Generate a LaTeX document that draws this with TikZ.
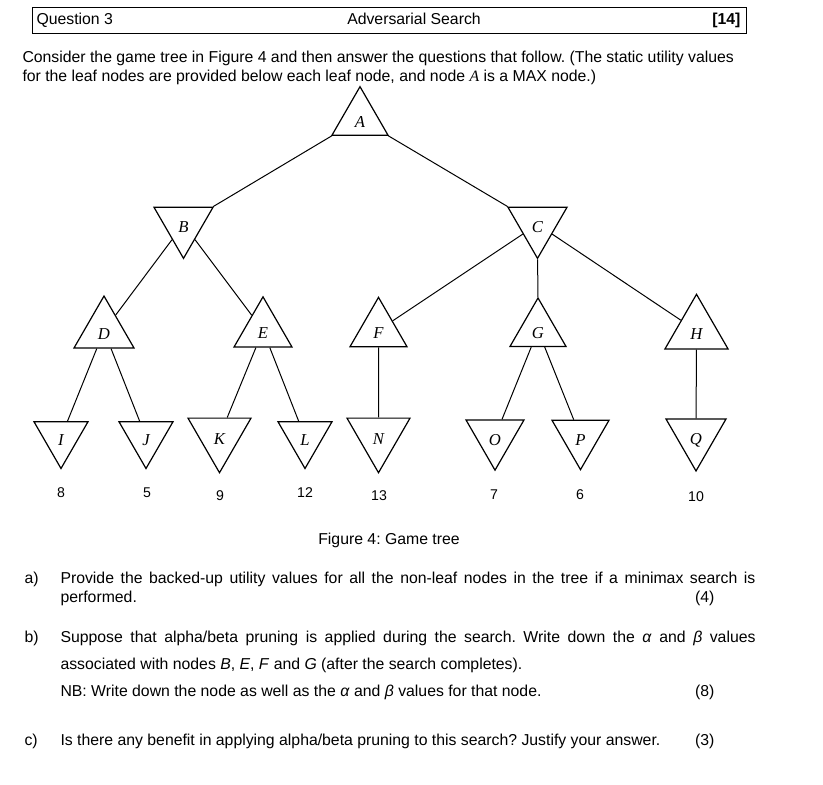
\documentclass[tikz,border=0pt]{standalone}
\usepackage{fontspec}
\setmainfont{Liberation Sans}
\newfontfamily\serifit{Liberation Serif}[ItalicFont={Liberation Serif Italic}]
\usetikzlibrary{shapes.geometric}
\frenchspacing

\newcommand\examfont{\fontsize{11.85pt}{14pt}\selectfont}
\newcommand\valfont{\fontsize{10.6pt}{12pt}\selectfont}
\newcommand\lblfont{\fontsize{12.5pt}{14pt}\selectfont\serifit\itshape}

\tikzset{every picture/.style={line width=0.75pt}}
\tikzset{
	maxnode/.style={draw, regular polygon, regular polygon sides=3, inner sep=0pt, minimum size=#1, line width=0.9pt, font=\lblfont, text height=12.5pt, text depth=0pt},
	maxnode/.default=50pt,
	minnode/.style={maxnode=#1, shape border rotate=180},
	minnode/.default=50pt,
	txt/.style={anchor=west, inner sep=0pt, font=\examfont, text height=8.5pt, text depth=2.5pt},
	leafval/.style={inner sep=0pt, font=\valfont}
}

\begin{document}
\begin{tikzpicture}[x=0.75pt,y=0.75pt,yscale=-1,xscale=1]
	\path[use as bounding box] (0,0) rectangle (823,784);

	%Shape: Rectangle [header]
	\draw (32,8) rectangle (746,34);
	% Text Node
	\node[txt] (qnum) at (36,21) {Question 3};
	% Text Node
	\node[txt, anchor=center] (qtitle) at (414,21) {Adversarial Search};
	% Text Node
	\node[txt, anchor=east] (qmarks) at (741,21) {\textbf{[14]}};

	% Text Node
	\node[txt] (intro1) at (22,59) {Consider the game tree in Figure 4 and then answer the questions that follow. (The static utility values};
	% Text Node
	\node[txt] (intro2) at (22,78) {for the leaf nodes are provided below each leaf node, and node {\serifit\itshape A} is a MAX node.)};

	%Shape: Triangles [tree]
	\node[maxnode=48.5pt] (A) at (360,119) {A};
	\node[minnode=51.1pt] (B) at (183.5,224.3) {B};
	\node[minnode=51.1pt] (C) at (537.5,224.3) {C};
	\node[maxnode=52pt] (D) at (104,330.7) {D};
	\node[maxnode=50.2pt] (E) at (263,330.3) {E};
	\node[maxnode=49.4pt] (F) at (378.5,330.3) {F};
	\node[maxnode=48.5pt] (G) at (538,330.3) {G};
	\node[maxnode=54.6pt] (H) at (696.5,330.7) {H};
	\node[minnode=46.8pt] (I) at (61,437.3) {I};
	\node[minnode=46.8pt] (J) at (146,437.3) {J};
	\node[minnode=54.6pt] (K) at (219.5,436.3) {K};
	\node[minnode=46.8pt] (L) at (305,437.3) {L};
	\node[minnode=54.6pt] (N) at (378.5,436.3) {N};
	\node[minnode=50.2pt] (O) at (495,436.7) {O};
	\node[minnode=49.4pt] (P) at (580.5,436.7) {P};
	\node[minnode=52pt] (Q) at (696,436.3) {Q};

	%Straight Lines [edges]
	\draw (A) -- (B) (A) -- (C);
	\draw (B) -- (D) (B) -- (E);
	\draw (C) -- (F) (C) -- (G) (C) -- (H);
	\draw (D) -- (I) (D) -- (J);
	\draw (E) -- (K) (E) -- (L);
	\draw (F) -- (N);
	\draw (G) -- (O) (G) -- (P);
	\draw (H) -- (Q);

	% Text Node [leaf values]
	\node[leafval] (vI) at (61,493) {8};
	\node[leafval] (vJ) at (147,493) {5};
	\node[leafval] (vK) at (220,496) {9};
	\node[leafval] (vL) at (305,493) {12};
	\node[leafval] (vN) at (379,496) {13};
	\node[leafval] (vO) at (494,495) {7};
	\node[leafval] (vP) at (580,495) {6};
	\node[leafval] (vQ) at (696,497) {10};

	% Text Node
	\node[txt, anchor=center] (caption) at (389,540) {Figure 4: Game tree};

	% Text Node [part a]
	\node[txt] (pa) at (24,579) {a)};
	\node[txt] (pa1) at (60,579) {\makebox[521.25pt][s]{Provide the backed-up utility values for all the non-leaf nodes in the tree if a minimax search is}};
	\node[txt] (pa2) at (60,598) {performed.};
	\node[txt, anchor=east] (ma) at (715,598) {(4)};

	% Text Node [part b]
	\node[txt] (pb) at (24,638) {b)};
	\node[txt] (pb1) at (60,638) {\makebox[521.25pt][s]{Suppose that alpha/beta pruning is applied during the search. Write down the \textit{α} and \textit{β} values}};
	\node[txt] (pb2) at (60,665) {associated with nodes \textit{B}, \textit{E}, \textit{F} and \textit{G} (after the search completes).};
	\node[txt] (pb3) at (60,692) {NB: Write down the node as well as the \textit{α} and \textit{β} values for that node.};
	\node[txt, anchor=east] (mb) at (715,692) {(8)};

	% Text Node [part c]
	\node[txt] (pc) at (24,741) {c)};
	\node[txt] (pc1) at (60,741) {Is there any benefit in applying alpha/beta pruning to this search? Justify your answer.};
	\node[txt, anchor=east] (mc) at (715,741) {(3)};

\end{tikzpicture}
\end{document}
